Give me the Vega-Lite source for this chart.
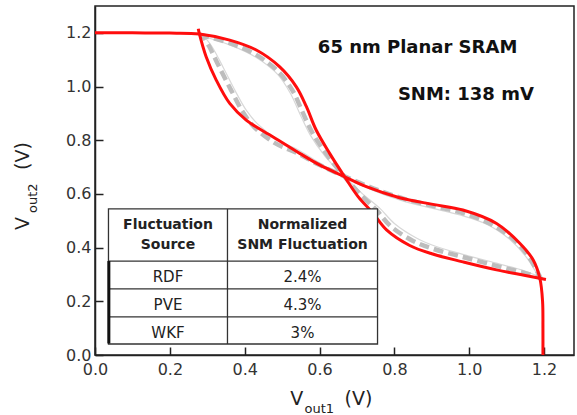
{
  "$schema": "https://vega.github.io/schema/vega-lite/v6.json",
  "width": 479,
  "height": 349,
  "autosize": "none",
  "padding": {"left": 95, "top": 6, "right": 3, "bottom": 60},
  "background": "white",
  "config": {
    "view": {"stroke": "#222", "strokeWidth": 1.5},
    "font": "DejaVu Sans",
    "axis": {"grid": false, "domainColor": "#222", "domainWidth": 1.5, "tickColor": "#222", "tickWidth": 1.5, "labelFont": "DejaVu Sans", "labelFontSize": 16, "labelColor": "#333", "title": null}
  },
  "datasets": {
    "curves": [
      {"s": "red1", "i": 0, "x": 0, "y": 1.2},
      {"s": "red1", "i": 1, "x": 0.1, "y": 1.2},
      {"s": "red1", "i": 2, "x": 0.2, "y": 1.199},
      {"s": "red1", "i": 3, "x": 0.279, "y": 1.196},
      {"s": "red1", "i": 4, "x": 0.36, "y": 1.173},
      {"s": "red1", "i": 5, "x": 0.431, "y": 1.136},
      {"s": "red1", "i": 6, "x": 0.493, "y": 1.074},
      {"s": "red1", "i": 7, "x": 0.538, "y": 0.999},
      {"s": "red1", "i": 8, "x": 0.565, "y": 0.925},
      {"s": "red1", "i": 9, "x": 0.591, "y": 0.838},
      {"s": "red1", "i": 10, "x": 0.627, "y": 0.751},
      {"s": "red1", "i": 11, "x": 0.667, "y": 0.664},
      {"s": "red1", "i": 12, "x": 0.703, "y": 0.59},
      {"s": "red1", "i": 13, "x": 0.743, "y": 0.528},
      {"s": "red1", "i": 14, "x": 0.779, "y": 0.466},
      {"s": "red1", "i": 15, "x": 0.841, "y": 0.408},
      {"s": "red1", "i": 16, "x": 0.9, "y": 0.377},
      {"s": "red1", "i": 17, "x": 0.983, "y": 0.347},
      {"s": "red1", "i": 18, "x": 1.073, "y": 0.317},
      {"s": "red1", "i": 19, "x": 1.15, "y": 0.296},
      {"s": "red1", "i": 20, "x": 1.205, "y": 0.281},
      {"s": "red2", "i": 0, "x": 1.197, "y": 0},
      {"s": "red2", "i": 1, "x": 1.197, "y": 0.1},
      {"s": "red2", "i": 2, "x": 1.196, "y": 0.2},
      {"s": "red2", "i": 3, "x": 1.189, "y": 0.284},
      {"s": "red2", "i": 4, "x": 1.171, "y": 0.354},
      {"s": "red2", "i": 5, "x": 1.135, "y": 0.416},
      {"s": "red2", "i": 6, "x": 1.073, "y": 0.49},
      {"s": "red2", "i": 7, "x": 0.983, "y": 0.54},
      {"s": "red2", "i": 8, "x": 0.903, "y": 0.561},
      {"s": "red2", "i": 9, "x": 0.814, "y": 0.586},
      {"s": "red2", "i": 10, "x": 0.725, "y": 0.627},
      {"s": "red2", "i": 11, "x": 0.667, "y": 0.664},
      {"s": "red2", "i": 12, "x": 0.6, "y": 0.708},
      {"s": "red2", "i": 13, "x": 0.547, "y": 0.751},
      {"s": "red2", "i": 14, "x": 0.475, "y": 0.813},
      {"s": "red2", "i": 15, "x": 0.404, "y": 0.875},
      {"s": "red2", "i": 16, "x": 0.36, "y": 0.937},
      {"s": "red2", "i": 17, "x": 0.324, "y": 1.024},
      {"s": "red2", "i": 18, "x": 0.297, "y": 1.111},
      {"s": "red2", "i": 19, "x": 0.279, "y": 1.196},
      {"s": "red2", "i": 20, "x": 0.276, "y": 1.215}
    ],
    "gray": [
      {"s": "g1", "i": 0, "x": 0.279, "y": 1.193},
      {"s": "g1", "i": 1, "x": 0.36, "y": 1.162},
      {"s": "g1", "i": 2, "x": 0.431, "y": 1.118},
      {"s": "g1", "i": 3, "x": 0.49, "y": 1.055},
      {"s": "g1", "i": 4, "x": 0.528, "y": 0.985},
      {"s": "g1", "i": 5, "x": 0.553, "y": 0.91},
      {"s": "g1", "i": 6, "x": 0.58, "y": 0.83},
      {"s": "g1", "i": 7, "x": 0.62, "y": 0.745},
      {"s": "g1", "i": 8, "x": 0.667, "y": 0.664},
      {"s": "g1", "i": 9, "x": 0.71, "y": 0.597},
      {"s": "g1", "i": 10, "x": 0.752, "y": 0.54},
      {"s": "g1", "i": 11, "x": 0.79, "y": 0.48},
      {"s": "g1", "i": 12, "x": 0.85, "y": 0.425},
      {"s": "g1", "i": 13, "x": 0.905, "y": 0.395},
      {"s": "g1", "i": 14, "x": 0.983, "y": 0.365},
      {"s": "g1", "i": 15, "x": 1.073, "y": 0.332},
      {"s": "g1", "i": 16, "x": 1.15, "y": 0.305},
      {"s": "g1", "i": 17, "x": 1.19, "y": 0.288},
      {"s": "g2", "i": 0, "x": 1.193, "y": 0.279},
      {"s": "g2", "i": 1, "x": 1.162, "y": 0.36},
      {"s": "g2", "i": 2, "x": 1.118, "y": 0.431},
      {"s": "g2", "i": 3, "x": 1.055, "y": 0.49},
      {"s": "g2", "i": 4, "x": 0.985, "y": 0.528},
      {"s": "g2", "i": 5, "x": 0.91, "y": 0.553},
      {"s": "g2", "i": 6, "x": 0.83, "y": 0.58},
      {"s": "g2", "i": 7, "x": 0.745, "y": 0.62},
      {"s": "g2", "i": 8, "x": 0.664, "y": 0.667},
      {"s": "g2", "i": 9, "x": 0.597, "y": 0.71},
      {"s": "g2", "i": 10, "x": 0.54, "y": 0.752},
      {"s": "g2", "i": 11, "x": 0.48, "y": 0.79},
      {"s": "g2", "i": 12, "x": 0.425, "y": 0.85},
      {"s": "g2", "i": 13, "x": 0.395, "y": 0.905},
      {"s": "g2", "i": 14, "x": 0.365, "y": 0.983},
      {"s": "g2", "i": 15, "x": 0.332, "y": 1.073},
      {"s": "g2", "i": 16, "x": 0.305, "y": 1.15},
      {"s": "g2", "i": 17, "x": 0.288, "y": 1.19}
    ],
    "faint": [
      {"s": "f1", "i": 0, "x": 0.279, "y": 1.19},
      {"s": "f1", "i": 1, "x": 0.36, "y": 1.155},
      {"s": "f1", "i": 2, "x": 0.431, "y": 1.108},
      {"s": "f1", "i": 3, "x": 0.488, "y": 1.045},
      {"s": "f1", "i": 4, "x": 0.522, "y": 0.975},
      {"s": "f1", "i": 5, "x": 0.547, "y": 0.9},
      {"s": "f1", "i": 6, "x": 0.575, "y": 0.82},
      {"s": "f1", "i": 7, "x": 0.615, "y": 0.74},
      {"s": "f1", "i": 8, "x": 0.667, "y": 0.664},
      {"s": "f1", "i": 9, "x": 0.715, "y": 0.6},
      {"s": "f1", "i": 10, "x": 0.76, "y": 0.548},
      {"s": "f1", "i": 11, "x": 0.8, "y": 0.49},
      {"s": "f1", "i": 12, "x": 0.86, "y": 0.435},
      {"s": "f1", "i": 13, "x": 0.91, "y": 0.405},
      {"s": "f1", "i": 14, "x": 0.983, "y": 0.375},
      {"s": "f1", "i": 15, "x": 1.073, "y": 0.342},
      {"s": "f1", "i": 16, "x": 1.15, "y": 0.312},
      {"s": "f1", "i": 17, "x": 1.19, "y": 0.29},
      {"s": "f2", "i": 0, "x": 1.19, "y": 0.279},
      {"s": "f2", "i": 1, "x": 1.155, "y": 0.36},
      {"s": "f2", "i": 2, "x": 1.108, "y": 0.431},
      {"s": "f2", "i": 3, "x": 1.045, "y": 0.488},
      {"s": "f2", "i": 4, "x": 0.975, "y": 0.522},
      {"s": "f2", "i": 5, "x": 0.9, "y": 0.547},
      {"s": "f2", "i": 6, "x": 0.82, "y": 0.575},
      {"s": "f2", "i": 7, "x": 0.74, "y": 0.615},
      {"s": "f2", "i": 8, "x": 0.664, "y": 0.667},
      {"s": "f2", "i": 9, "x": 0.6, "y": 0.715},
      {"s": "f2", "i": 10, "x": 0.548, "y": 0.76},
      {"s": "f2", "i": 11, "x": 0.49, "y": 0.8},
      {"s": "f2", "i": 12, "x": 0.435, "y": 0.86},
      {"s": "f2", "i": 13, "x": 0.405, "y": 0.91},
      {"s": "f2", "i": 14, "x": 0.375, "y": 0.983},
      {"s": "f2", "i": 15, "x": 0.342, "y": 1.073},
      {"s": "f2", "i": 16, "x": 0.312, "y": 1.15},
      {"s": "f2", "i": 17, "x": 0.29, "y": 1.19}
    ],
    "tbox": [{"x": 0.036, "x2": 0.755, "y": 0.041, "y2": 0.544}],
    "tlines": [
      {"x": 0.036, "x2": 0.755, "y": 0.35, "y2": 0.35},
      {"x": 0.036, "x2": 0.755, "y": 0.246, "y2": 0.246},
      {"x": 0.036, "x2": 0.755, "y": 0.142, "y2": 0.142},
      {"x": 0.354, "x2": 0.354, "y": 0.041, "y2": 0.544}
    ],
    "tbar": [{"x": 0.037, "x2": 0.037, "y": 0.043, "y2": 0.35}],
    "thead": [
      {"x": 0.195, "y": 0.486, "t": "Fluctuation"},
      {"x": 0.195, "y": 0.41, "t": "Source"},
      {"x": 0.5545, "y": 0.486, "t": "Normalized"},
      {"x": 0.5545, "y": 0.41, "t": "SNM Fluctuation"}
    ],
    "tbody": [
      {"x": 0.195, "y": 0.29, "t": "RDF"},
      {"x": 0.195, "y": 0.186, "t": "PVE"},
      {"x": 0.195, "y": 0.082, "t": "WKF"},
      {"x": 0.5545, "y": 0.29, "t": "2.4%"},
      {"x": 0.5545, "y": 0.186, "t": "4.3%"},
      {"x": 0.5545, "y": 0.082, "t": "3%"}
    ],
    "notes": [
      {"x": 0.862, "y": 1.143, "t": "65 nm Planar SRAM"},
      {"x": 0.991, "y": 0.968, "t": "SNM: 138 mV"}
    ],
    "xtitle": [
      {"x": 0.522, "y": -0.186, "t": "V"},
      {"x": 0.667, "y": -0.186, "t": "(V)"}
    ],
    "xsub": [{"x": 0.56, "y": -0.216, "t": "out1"}],
    "ytitle": [
      {"x": -0.176, "y": 0.466, "t": "V"},
      {"x": -0.176, "y": 0.689, "t": "(V)"}
    ],
    "ysub": [{"x": -0.154, "y": 0.529, "t": "out2"}]
  },
  "encoding": {
    "x": {"field": "x", "type": "quantitative", "scale": {"domain": [0, 1.28], "nice": false, "zero": false},
      "axis": {"values": [0, 0.2, 0.4, 0.6, 0.8, 1.0, 1.2], "format": ".1f", "tickSize": -8, "labelPadding": 14, "labelOverlap": false, "labelFlush": false}},
    "y": {"field": "y", "type": "quantitative", "scale": {"domain": [0, 1.3], "nice": false, "zero": false},
      "axis": {"values": [0, 0.2, 0.4, 0.6, 0.8, 1.0, 1.2], "format": ".1f", "tickSize": -8, "labelPadding": 12, "labelOverlap": false, "labelFlush": false}}
  },
  "layer": [
    {"data": {"name": "faint"}, "mark": {"type": "line", "color": "#d8d8d8", "strokeWidth": 1.2, "interpolate": "catmull-rom"},
      "encoding": {"detail": {"field": "s"}, "order": {"field": "i", "type": "quantitative"}}},
    {"data": {"name": "gray"}, "mark": {"type": "line", "color": "#bdbdbd", "strokeWidth": 4.5, "strokeDash": [10, 5], "interpolate": "catmull-rom"},
      "encoding": {"detail": {"field": "s"}, "order": {"field": "i", "type": "quantitative"}}},
    {"data": {"name": "curves"}, "mark": {"type": "line", "color": "#ff0d0d", "strokeWidth": 3, "interpolate": "catmull-rom"},
      "encoding": {"detail": {"field": "s"}, "order": {"field": "i", "type": "quantitative"}}},
    {"data": {"name": "tbox"}, "mark": {"type": "rect", "fill": "white", "stroke": "#333", "strokeWidth": 1.3},
      "encoding": {"x2": {"field": "x2"}, "y2": {"field": "y2"}}},
    {"data": {"name": "tlines"}, "mark": {"type": "rule", "color": "#333", "strokeWidth": 1.3},
      "encoding": {"x2": {"field": "x2"}, "y2": {"field": "y2"}}},
    {"data": {"name": "tbar"}, "mark": {"type": "rule", "color": "#111", "strokeWidth": 3},
      "encoding": {"x2": {"field": "x2"}, "y2": {"field": "y2"}}},
    {"data": {"name": "thead"}, "mark": {"type": "text", "font": "DejaVu Sans", "fontWeight": "bold", "fontSize": 14, "color": "#222", "align": "center", "baseline": "middle"},
      "encoding": {"text": {"field": "t"}}},
    {"data": {"name": "tbody"}, "mark": {"type": "text", "font": "DejaVu Sans", "fontSize": 15, "color": "#222", "align": "center", "baseline": "middle"},
      "encoding": {"text": {"field": "t"}}},
    {"data": {"name": "notes"}, "mark": {"type": "text", "font": "DejaVu Sans", "fontWeight": "bold", "fontSize": 18, "color": "#111", "align": "center", "baseline": "middle"},
      "encoding": {"text": {"field": "t"}}},
    {"data": {"name": "xtitle"}, "mark": {"type": "text", "font": "DejaVu Sans", "fontSize": 19, "color": "#222", "align": "left", "baseline": "alphabetic"},
      "encoding": {"text": {"field": "t"}}},
    {"data": {"name": "xsub"}, "mark": {"type": "text", "font": "DejaVu Sans", "fontSize": 13, "color": "#222", "align": "left", "baseline": "alphabetic"},
      "encoding": {"text": {"field": "t"}}},
    {"data": {"name": "ytitle"}, "mark": {"type": "text", "font": "DejaVu Sans", "fontSize": 19, "color": "#222", "align": "left", "baseline": "alphabetic", "angle": 270},
      "encoding": {"text": {"field": "t"}}},
    {"data": {"name": "ysub"}, "mark": {"type": "text", "font": "DejaVu Sans", "fontSize": 13, "color": "#222", "align": "left", "baseline": "alphabetic", "angle": 270},
      "encoding": {"text": {"field": "t"}}}
  ]
}
